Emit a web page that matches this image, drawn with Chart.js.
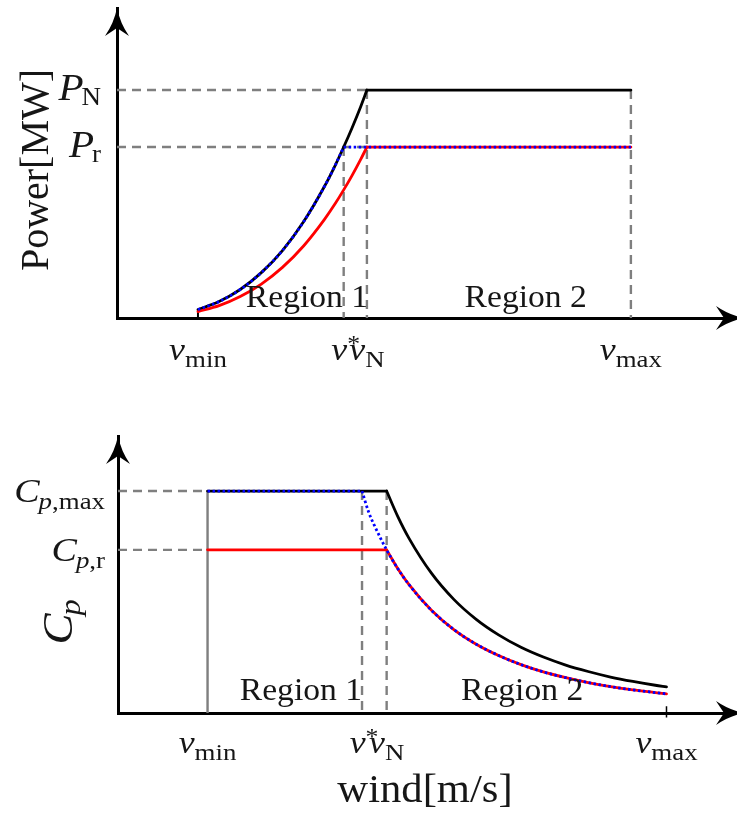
<!DOCTYPE html>
<html><head><meta charset="utf-8">
<script src="https://cdn.jsdelivr.net/npm/chart.js@4.4.1/dist/chart.umd.min.js"></script>
<style>
html,body{margin:0;padding:0;background:#fff;}
#wrap{position:relative;width:737px;height:823px;overflow:hidden;}
#c1{position:absolute;left:0;top:0;}
#c2{position:absolute;left:0;top:400px;}
</style></head><body>
<div id="wrap"><canvas id="c1" width="737" height="400"></canvas><canvas id="c2" width="737" height="423"></canvas></div>
<script>
// ---- data ----
const vMin = 4, vStar = 10.9, vN = 12, vMax = 24.5;
const tickWinds = [vMin, vStar, vN, vMax];
const tickSubs = ['min', '*', 'N', 'max'];

const powerLevels = [1.0, 0.75];          // P_N, P_r
const powerLevelSubs = ['N', 'r'];
const cpLevels = [1.0, 0.735];            // Cp,max, Cp,r
const cpLevelSubs = ['max', 'r'];

// Region 1 (rising power) – black: nominal, red: reduced, blue: limited
const powerRiseWind = [4, 5, 6, 7, 8, 9, 10, 10.5, 10.9, 11.3, 11.7, 12];
const powerNominal  = [0.037, 0.072, 0.125, 0.199, 0.296, 0.422, 0.579, 0.670, 0.750, 0.835, 0.926, 1.000];
const powerReduced  = [0.028, 0.054, 0.094, 0.149, 0.222, 0.316, 0.434, 0.502, 0.562, 0.626, 0.695, 0.750];
const powerLimWind  = [4, 5, 6, 7, 8, 9, 10, 10.5, 10.9];
const powerLimited  = [0.037, 0.072, 0.125, 0.199, 0.296, 0.422, 0.579, 0.670, 0.750];

// Region 2 (falling Cp)
const cpFallWind = [12, 12.5, 13, 14, 15, 16, 17, 18, 19, 20, 21, 22, 23, 24, 24.5];
const cpNominal  = [1, 0.885, 0.787, 0.630, 0.512, 0.422, 0.352, 0.296, 0.252, 0.216, 0.187, 0.162, 0.142, 0.125, 0.118];
const cpReduced  = [0.735, 0.650, 0.578, 0.463, 0.376, 0.310, 0.259, 0.218, 0.185, 0.159, 0.137, 0.119, 0.104, 0.092, 0.086];
const cpLimWind  = [10.9, 11.2, 11.5, 12, 12.5, 13, 14, 15, 16, 17, 18, 19, 20, 21, 22, 23, 24, 24.5];
const cpLimited  = [1, 0.904, 0.835, 0.735, 0.650, 0.578, 0.463, 0.376, 0.310, 0.259, 0.218, 0.185, 0.159, 0.137, 0.119, 0.104, 0.092, 0.086];

// ---- helpers ----
const FF = '"Liberation Serif", "Times New Roman", serif';
const TXT = '#161616';
const GRAY = '#7f7f7f';
const BLUE = '#0000ff', RED = '#ff0000', BLACK = '#000000';
const zip = (xs, ys) => xs.map((x, i) => ({x: x, y: ys[i]}));
const seg = (x1, y1, x2, y2) => [{x: x1, y: y1}, {x: x2, y: y2}];

function drawParts(ctx, parts, x, y, align, hs) {
  hs = hs || 1;
  let w = 0;
  parts.forEach(p => { ctx.font = p.f; p.w = ctx.measureText(p.t).width * hs; w += p.w + (p.dx || 0); });
  let sx = align === 'center' ? x - w / 2 : (align === 'right' ? x - w : x);
  ctx.textAlign = 'left'; ctx.textBaseline = 'alphabetic'; ctx.fillStyle = TXT;
  parts.forEach(p => {
    ctx.save();
    ctx.font = p.f;
    ctx.translate(sx + (p.dx || 0), y + (p.dy || 0));
    ctx.scale(hs, 1);
    ctx.fillText(p.t, 0, 0);
    ctx.restore();
    sx += p.w + (p.dx || 0);
  });
}
function arrowHeads(ctx, ca, xTipExtra) {
  ctx.save(); ctx.fillStyle = '#000';
  let x = ca.left, y = ca.top;
  ctx.beginPath(); ctx.moveTo(x, y);
  ctx.quadraticCurveTo(x + 3, y + 15, x + 12, y + 28);
  ctx.lineTo(x, y + 20);
  ctx.lineTo(x - 12, y + 28);
  ctx.quadraticCurveTo(x - 3, y + 15, x, y);
  ctx.fill();
  x = ca.right + xTipExtra; y = ca.bottom;
  ctx.beginPath(); ctx.moveTo(x, y);
  ctx.quadraticCurveTo(x - 15, y - 3, x - 28, y - 12);
  ctx.lineTo(x - 20, y);
  ctx.lineTo(x - 28, y + 12);
  ctx.quadraticCurveTo(x - 15, y + 3, x, y);
  ctx.fill();
  ctx.restore();
}
function vLabel(sub) {
  const parts = [{t: 'v', f: 'italic 32px ' + FF}];
  if (sub === '*') parts.push({t: '*', f: '23px ' + FF, dy: -9, dx: 0});
  else parts.push({t: sub, f: '24px ' + FF, dy: 7});
  return parts;
}

const baseScales = (xmin, xmax, ymax) => ({
  x: {type: 'linear', min: xmin, max: xmax,
      grid: {display: false, drawTicks: false}, ticks: {display: false},
      border: {display: true, color: '#000', width: 3}},
  y: {type: 'linear', min: 0, max: ymax,
      grid: {display: false, drawTicks: false}, ticks: {display: false},
      border: {display: true, color: '#000', width: 3}}
});
const curve = (data, color, extra) => Object.assign({data: data, borderColor: color, borderWidth: 2.8,
  pointRadius: 0, fill: false, cubicInterpolationMode: 'monotone', borderCapStyle: 'round'}, extra || {});
const dotted = (data) => curve(data, BLUE, {borderDash: [2.5, 2.5], borderCapStyle: 'butt'});
const gray = (data, dashed) => ({data: data, borderColor: GRAY, borderWidth: 2.4, pointRadius: 0,
  fill: false, borderDash: dashed ? [9, 6] : []});

// ---- top chart: power ----
const xMinTop = 0.166;
const topDatasets = [
  dotted(zip(powerLimWind, powerLimited)),
  dotted(seg(vStar, powerLevels[1], vMax, powerLevels[1])),
  curve(zip(powerRiseWind, powerReduced), RED),
  curve(seg(vN, powerLevels[1], vMax, powerLevels[1]), RED),
  curve(zip(powerRiseWind, powerNominal), BLACK),
  curve(seg(vN, powerLevels[0], vMax, powerLevels[0]), BLACK),
  {data: seg(vMin, 0, vMin, powerNominal[0]), borderColor: '#000', borderWidth: 2, pointRadius: 0},
  gray(seg(xMinTop, powerLevels[0], vN, powerLevels[0]), true),
  gray(seg(xMinTop, powerLevels[1], vN, powerLevels[1]), true),
  gray(seg(vN, powerLevels[0], vN, 0), true),
  gray(seg(vStar, powerLevels[1], vStar, 0), true),
  gray(seg(vMax, powerLevels[0], vMax, 0), true)
];
const topText = {
  id: 'topText',
  afterDraw(chart) {
    const ctx = chart.ctx, xs = chart.scales.x, ys = chart.scales.y, ca = chart.chartArea;
    arrowHeads(ctx, ca, 9);
    ctx.save();
    tickWinds.forEach((v, i) => {
      drawParts(ctx, vLabel(tickSubs[i]), xs.getPixelForValue(v) + (i === 1 ? 2 : 0), 360, 'center', 1.12);
    });
    powerLevels.forEach((p, i) => {
      const y = ys.getPixelForValue(p);
      drawParts(ctx, [{t: 'P', f: 'italic 38px ' + FF}, {t: powerLevelSubs[i], f: '25px ' + FF, dy: 5, dx: -2}], 101, y + 10, 'right', 1.08);
    });
    const rf = '32px ' + FF;
    drawParts(ctx, [{t: 'Region 1', f: rf}], xs.getPixelForValue(9.16), ys.getPixelForValue(0.048), 'center', 1.05);
    drawParts(ctx, [{t: 'Region 2', f: rf}], xs.getPixelForValue(19.52), ys.getPixelForValue(0.048), 'center', 1.05);
    ctx.translate(37, 170); ctx.rotate(-Math.PI / 2);
    ctx.font = '40px ' + FF; ctx.textAlign = 'center'; ctx.textBaseline = 'middle'; ctx.fillStyle = TXT;
    ctx.fillText('Power[MW]', 0, 0);
    ctx.restore();
  }
};
new Chart(document.getElementById('c1'), {
  type: 'line',
  data: {datasets: topDatasets},
  options: {
    responsive: false, animation: false, events: [], devicePixelRatio: 1,
    layout: {padding: {left: 117, right: 2, top: 8, bottom: 82}},
    plugins: {legend: {display: false}, tooltip: {enabled: false}},
    scales: baseScales(xMinTop, 29.43, 1.36)
  },
  plugins: [topText]
});

// ---- bottom chart: Cp ----
const botDatasets = [
  dotted(seg(vMin, cpLevels[0], vStar, cpLevels[0])),
  dotted(zip(cpLimWind, cpLimited)),
  curve(seg(vMin, cpLevels[1], vN, cpLevels[1]), RED),
  curve(zip(cpFallWind, cpReduced), RED),
  curve(seg(vMin, cpLevels[0], vN, cpLevels[0]), BLACK),
  curve(zip(cpFallWind, cpNominal), BLACK),
  {data: seg(vMax, 0.03, vMax, -0.02), borderColor: '#000', borderWidth: 1.5, pointRadius: 0, clip: false},
  gray(seg(vMin, cpLevels[0], vMin, 0), false),
  gray(seg(0, cpLevels[0], vMin, cpLevels[0]), true),
  gray(seg(0, cpLevels[1], vMin, cpLevels[1]), true),
  gray(seg(vStar, cpLevels[0], vStar, 0), true),
  gray(seg(vN, cpLevels[0], vN, 0), true)
];
const botText = {
  id: 'botText',
  afterDraw(chart) {
    const ctx = chart.ctx, xs = chart.scales.x, ys = chart.scales.y, ca = chart.chartArea;
    arrowHeads(ctx, ca, 9);
    ctx.save();
    tickWinds.forEach((v, i) => {
      drawParts(ctx, vLabel(tickSubs[i]), xs.getPixelForValue(v) + (i === 1 ? 2 : 0), 353, 'center', 1.12);
    });
    cpLevels.forEach((c, i) => {
      const y = ys.getPixelForValue(c);
      drawParts(ctx, [{t: 'C', f: 'italic 34px ' + FF}, {t: 'p', f: 'italic 24px ' + FF, dy: 7, dx: -1},
                      {t: ',' + cpLevelSubs[i], f: '24px ' + FF, dy: 7}], 105, y + 11, 'right', 1.12);
    });
    const rf = '32px ' + FF;
    drawParts(ctx, [{t: 'Region 1', f: rf}], xs.getPixelForValue(8.17), ys.getPixelForValue(0.058), 'center', 1.05);
    drawParts(ctx, [{t: 'Region 2', f: rf}], xs.getPixelForValue(18.05), ys.getPixelForValue(0.058), 'center', 1.05);
    drawParts(ctx, [{t: 'wind[m/s]', f: '41px ' + FF}], 425, 402, 'center', 1.04);
    ctx.translate(72, 222); ctx.rotate(-Math.PI / 2);
    drawParts(ctx, [{t: 'C', f: 'italic 43px ' + FF}, {t: 'p', f: 'italic 30px ' + FF, dy: 8, dx: -2}], 0, 0, 'center', 1.08);
    ctx.restore();
  }
};
new Chart(document.getElementById('c2'), {
  type: 'line',
  data: {datasets: botDatasets},
  options: {
    responsive: false, animation: false, events: [], devicePixelRatio: 1,
    layout: {padding: {left: 118, right: 2, top: 36, bottom: 110}},
    plugins: {legend: {display: false}, tooltip: {enabled: false}},
    scales: baseScales(0, 27.56, 1.248)
  },
  plugins: [botText]
});
</script>
</body></html>
